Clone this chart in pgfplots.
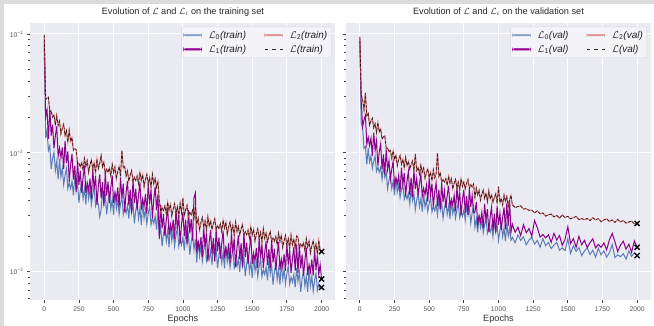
\documentclass[border=0pt]{standalone}
\usepackage{fontspec}
\setmainfont{Liberation Sans}
\usepackage{pgfplots}
\pgfplotsset{compat=1.18}
\usepackage{pgfplotstable}
\definecolor{bgc}{HTML}{EAEAF2}
\definecolor{cblue}{HTML}{4C72B0}
\definecolor{cpurple}{HTML}{8B008B}
\definecolor{legpurple}{HTML}{990099}
\definecolor{cred}{HTML}{DA5B5B}
\definecolor{tickc}{HTML}{444444}
\definecolor{labc}{HTML}{555555}
\definecolor{framec}{HTML}{DCDCDC}

\pgfplotstableread{
e l0 l1 l2
0 0.080 0.090 0.098
10 0.0133 0.0202 0.0282
20 0.0154 0.0230 0.0288
30 0.0105 0.0131 0.0294
40 0.0115 0.0233 0.0221
50 0.0073 0.0140 0.0225
60 0.0090 0.0173 0.0200
70 0.0101 0.0109 0.0208
80 0.0071 0.0139 0.0171
90 0.0085 0.0167 0.0206
100 0.0060 0.0093 0.0170
110 0.0089 0.0110 0.0185
120 0.0063 0.0091 0.0144
130 0.0074 0.0111 0.0162
140 0.0054 0.0073 0.0174
150 0.0065 0.0126 0.0140
160 0.0074 0.0082 0.0154
170 0.0050 0.0103 0.0123
180 0.0056 0.0057 0.0155
190 0.0050 0.0080 0.0125
200 0.0058 0.0098 0.0134
210 0.0044 0.0060 0.0105
220 0.0064 0.0078 0.0108
230 0.0048 0.0047 0.0107
240 0.0058 0.0087 0.0081
250 0.0038 0.0054 0.0082
260 0.00485 0.00706 0.0076
270 0.00564 0.00464 0.00832
280 0.00413 0.00621 0.00717
290 0.00505 0.00785 0.00898
300 0.00367 0.00459 0.00768
310 0.00564 0.0056 0.00861
320 0.00412 0.00481 0.00685
330 0.00489 0.00607 0.00792
340 0.00367 0.0041 0.00875
350 0.00448 0.0073 0.00724
360 0.00518 0.0049 0.00823
370 0.00362 0.0064 0.0068
380 0.00411 0.00364 0.00886
390 0.00369 0.00527 0.00737
400 0.0029 0.0066 0.00819
410 0.0033 0.00417 0.0095
420 0.00485 0.00568 0.00763
430 0.00371 0.00358 0.00833
440 0.00446 0.00688 0.00673
450 0.00304 0.00437 0.00728
460 0.0039 0.00574 0.00687
470 0.00455 0.00378 0.00748
480 0.00335 0.00509 0.00643
490 0.0041 0.00648 0.00802
500 0.003 0.00381 0.00684
510 0.00462 0.00467 0.00763
520 0.00339 0.00404 0.00606
530 0.00404 0.00512 0.00699
540 0.00304 0.00348 0.00769
550 0.00373 0.00623 0.00635
560 0.00433 0.0042 0.0105
570 0.00304 0.00552 0.0075
580 0.00346 0.00317 0.00769
590 0.00312 0.00461 0.00638
600 0.00364 0.00581 0.00706
610 0.0028 0.0036 0.00579
620 0.00411 0.0049 0.00652
630 0.00314 0.0031 0.00711
640 0.00376 0.00596 0.00575
650 0.00256 0.00379 0.00622
660 0.00327 0.00499 0.00587
670 0.00382 0.00329 0.0064
680 0.0028 0.00444 0.0055
690 0.00342 0.00567 0.00686
700 0.00249 0.00334 0.00586
710 0.00384 0.0041 0.00654
720 0.00281 0.00355 0.00519
730 0.00335 0.00451 0.00599
740 0.00252 0.00308 0.0066
750 0.00307 0.00552 0.00544
760 0.00355 0.00373 0.00617
770 0.00249 0.00491 0.00509
780 0.00283 0.00282 0.00661
790 0.00255 0.00411 0.00548
800 0.00296 0.0052 0.00607
810 0.00227 0.00329 0.00513
820 0.00332 0.00449 0.00577
830 0.002 0.0019 0.00396
840 0.00239 0.00365 0.0032
850 0.00164 0.00232 0.00347
860 0.00209 0.00306 0.00328
870 0.00245 0.00201 0.00358
880 0.0018 0.00272 0.00309
890 0.00221 0.00347 0.00385
900 0.00161 0.00204 0.0033
910 0.00249 0.00251 0.00368
920 0.00182 0.00218 0.00293
930 0.00218 0.00275 0.00339
940 0.00164 0.00188 0.00374
950 0.00202 0.00337 0.0031
960 0.00234 0.00228 0.00352
970 0.00164 0.003 0.0029
980 0.00187 0.00173 0.00378
990 0.00168 0.00251 0.00314
1000 0.00197 0.00317 0.0042
1010 0.00151 0.00201 0.00296
1020 0.00223 0.00274 0.00333
1030 0.0017 0.00173 0.00364
1040 0.00205 0.00331 0.00295
1050 0.00139 0.00211 0.00319
1060 0.00179 0.00277 0.00302
1070 0.00208 0.00183 0.00329
1080 0.00153 0.0042 0.00284
1090 0.00187 0.0046 0.00355
1100 0.0012 0.00146 0.00252
1110 0.00185 0.00179 0.00282
1120 0.00136 0.00155 0.00224
1130 0.00164 0.00196 0.0026
1140 0.00123 0.00134 0.00287
1150 0.00151 0.0024 0.00237
1160 0.00176 0.00162 0.00269
1170 0.00124 0.00213 0.00223
1180 0.00142 0.00122 0.0029
1190 0.00128 0.00178 0.00241
1200 0.0015 0.00224 0.00268
1210 0.00115 0.00142 0.00227
1220 0.0017 0.00193 0.00255
1230 0.00131 0.00122 0.00279
1240 0.00158 0.00234 0.00226
1250 0.00107 0.00149 0.00245
1260 0.00138 0.00195 0.00232
1270 0.00161 0.00129 0.00253
1280 0.00119 0.00173 0.00218
1290 0.00146 0.00221 0.00272
1300 0.00107 0.0013 0.00233
1310 0.00165 0.00159 0.00261
1320 0.00121 0.00138 0.00206
1330 0.00144 0.00175 0.00238
1340 0.00109 0.00119 0.00262
1350 0.00133 0.00214 0.00217
1360 0.00154 0.00145 0.00245
1370 0.00108 0.00191 0.00202
1380 0.00123 0.00109 0.00262
1390 0.00111 0.00159 0.00218
1400 0.00129 0.00202 0.00241
1410 0.001 0.00128 0.00204
1420 0.00146 0.00174 0.00229
1430 0.00112 0.0011 0.0025
1440 0.00135 0.00212 0.00201
1450 0.00092 0.00134 0.00218
1460 0.00116 0.00176 0.00205
1470 0.00136 0.00116 0.00224
1480 0.001 0.00157 0.00192
1490 0.00122 0.002 0.0024
1500 0.00089 0.00117 0.00204
1510 0.00137 0.00144 0.00228
1520 0.00101 0.00124 0.00181
1530 0.00121 0.00159 0.00208
1540 0.00091 0.00108 0.0023
1550 0.00111 0.00193 0.0019
1560 0.0013 0.0013 0.00215
1570 0.00091 0.00171 0.00178
1580 0.00104 0.00108 0.0023
1590 0.00095 0.00144 0.00191
1600 0.0011 0.00181 0.00212
1610 0.00085 0.00114 0.00179
1620 0.00124 0.00155 0.00202
1630 0.00096 0.00108 0.00219
1640 0.00115 0.00189 0.00178
1650 0.00078 0.0012 0.00192
1660 0.001 0.00157 0.00181
1670 0.00118 0.00103 0.00198
1680 0.00086 0.0014 0.00169
1690 0.00106 0.00178 0.00211
1700 0.00078 0.00104 0.0018
1710 0.0012 0.00128 0.00202
1720 0.00087 0.0011 0.0016
1730 0.00105 0.00141 0.00184
1740 0.00079 0.00102 0.00203
1750 0.00097 0.00171 0.00167
1760 0.00112 0.00115 0.0019
1770 0.00079 0.00153 0.00157
1780 0.0009 0.00098 0.00204
1790 0.00082 0.00128 0.00169
1800 0.00095 0.00161 0.00188
1810 0.00074 0.00102 0.00159
1820 0.00108 0.0017 0.0020
1830 0.00083 0.00098 0.00195
1840 0.001 0.00169 0.00158
1850 0.00068 0.00107 0.00171
1860 0.00088 0.0014 0.00162
1870 0.00102 0.00093 0.00176
1880 0.00076 0.00125 0.00151
1890 0.00092 0.0016 0.0019
1900 0.00068 0.00094 0.00162
1910 0.00105 0.00115 0.00181
1920 0.00076 0.001 0.00144
1930 0.00092 0.00127 0.00166
1940 0.00069 0.00093 0.00183
1950 0.00085 0.00155 0.00151
1960 0.00098 0.00104 0.00171
1970 0.0007 0.00138 0.00141
1980 0.00079 0.00095 0.00184
1990 0.00072 0.00115 0.00153
2000 0.00074 0.00087 0.00148
}\train

\pgfplotstableread{
e l0 l1 l2
0 0.080 0.090 0.095
10 0.0178 0.0265 0.0307
20 0.0162 0.0166 0.0279
30 0.0109 0.0190 0.0229
40 0.0113 0.0206 0.0320
50 0.0080 0.0118 0.0205
60 0.0110 0.0135 0.0215
70 0.0084 0.0115 0.0171
80 0.0094 0.0133 0.0186
90 0.0074 0.0094 0.0196
100 0.0085 0.0148 0.0162
110 0.0094 0.0105 0.0176
120 0.0070 0.0126 0.0148
130 0.0076 0.0078 0.0180
140 0.0069 0.0102 0.0150
150 0.0076 0.0119 0.0159
160 0.0060 0.0073 0.0131
170 0.0079 0.0097 0.0136
180 0.0062 0.0066 0.0139
190 0.0069 0.0107 0.0109
200 0.0050 0.0072 0.0110
210 0.0059 0.0086 0.0102
220 0.0066 0.0060 0.0105
230 0.0050 0.0073 0.0090
240 0.0058 0.0085 0.0104
250 0.0044 0.0053 0.0088
260 0.0061 0.0062 0.0096
270 0.0047 0.0055 0.0078
280 0.0054 0.0065 0.0088
290 0.0042 0.0047 0.0095
300 0.0049 0.0075 0.0080
310 0.00546 0.00544 0.00882
320 0.00408 0.00675 0.00747
330 0.00449 0.00432 0.00921
340 0.0041 0.00581 0.00783
350 0.00459 0.0070 0.00846
360 0.00369 0.00445 0.00731
370 0.00497 0.00618 0.0080
380 0.00397 0.00427 0.00855
390 0.00456 0.00718 0.00709
400 0.00332 0.00497 0.0098
410 0.00402 0.00614 0.0071
420 0.00455 0.00438 0.00756
430 0.00353 0.00551 0.00662
440 0.00415 0.00666 0.0079
450 0.00321 0.00431 0.00687
460 0.00451 0.00504 0.00748
470 0.00351 0.00446 0.00611
480 0.00403 0.00535 0.00683
490 0.0032 0.00389 0.00735
500 0.00374 0.00619 0.0062
510 0.00422 0.00447 0.00687
520 0.00319 0.00552 0.00583
530 0.00354 0.00351 0.00721
540 0.00326 0.0047 0.00615
550 0.0037 0.00563 0.00667
560 0.0030 0.00355 0.0100
570 0.00408 0.00491 0.00633
580 0.0033 0.00337 0.00679
590 0.00383 0.00562 0.00565
600 0.00282 0.00386 0.0060
610 0.00343 0.00481 0.00569
620 0.0039 0.00345 0.00607
630 0.00304 0.00437 0.00533
640 0.00359 0.00531 0.00637
650 0.00279 0.00346 0.00556
660 0.00394 0.00408 0.00606
670 0.00308 0.00363 0.00497
680 0.00355 0.00439 0.00556
690 0.00283 0.00322 0.0060
700 0.00333 0.00516 0.00508
710 0.00376 0.00376 0.00567
720 0.00285 0.00468 0.00486
730 0.00317 0.0030 0.00606
740 0.00293 0.00405 0.00522
750 0.00333 0.0049 0.00571
760 0.00271 0.00312 0.0050
770 0.00369 0.00435 0.00554
780 0.0030 0.00302 0.00599
790 0.00348 0.00508 0.00504
800 0.00257 0.00352 0.0054
810 0.00314 0.00439 0.00517
820 0.00357 0.00315 0.00547
830 0.00237 0.00317 0.00421
840 0.00278 0.00386 0.00505
850 0.00215 0.00251 0.00443
860 0.00301 0.00296 0.00484
870 0.00235 0.00263 0.0040
880 0.00269 0.00318 0.0045
890 0.00213 0.00233 0.00487
900 0.0025 0.00374 0.00414
910 0.00281 0.00272 0.00458
920 0.00211 0.00337 0.00389
930 0.00234 0.00216 0.00481
940 0.00215 0.0029 0.0041
950 0.00243 0.0035 0.00444
960 0.00197 0.00222 0.00385
970 0.00267 0.00309 0.00422
980 0.00215 0.00214 0.00453
990 0.00249 0.00359 0.00377
1000 0.00183 0.00248 0.0052
1010 0.00222 0.0031 0.00383
1020 0.00253 0.00224 0.00413
1030 0.00197 0.00285 0.00366
1040 0.00233 0.00348 0.00442
1050 0.00181 0.00228 0.0039
1060 0.00256 0.0038 0.0043
1070 0.0020 0.00242 0.00356
1080 0.00231 0.0040 0.00403
1090 0.00184 0.00216 0.0044
1100 0.00195 0.00252 0.00366
1120 0.00176 0.00215 0.00347
1140 0.00204 0.00237 0.00354
1160 0.00184 0.00202 0.00359
1180 0.00197 0.00249 0.00337
1200 0.00169 0.00213 0.0034
1220 0.00185 0.00231 0.00329
1240 0.00195 0.00199 0.00331
1260 0.00171 0.0027 0.00313
1280 0.00184 0.00235 0.00326
1300 0.00161 0.00196 0.00308
1320 0.0019 0.00206 0.00313
1340 0.00166 0.00193 0.00294
1360 0.00177 0.00205 0.00302
1380 0.00157 0.00177 0.00306
1400 0.00168 0.00211 0.0029
1420 0.00177 0.00185 0.00298
1440 0.00152 0.00202 0.00283
1460 0.00159 0.00167 0.00301
1480 0.00151 0.00188 0.00286
1500 0.0019 0.0024 0.00293
1520 0.00143 0.00173 0.00279
1540 0.00166 0.0019 0.00286
1560 0.00149 0.00161 0.00292
1580 0.0016 0.00199 0.00275
1600 0.00137 0.00169 0.0028
1620 0.0015 0.00184 0.00275
1640 0.00159 0.0016 0.00281
1660 0.0014 0.00176 0.0027
1680 0.00152 0.0019 0.00285
1700 0.00133 0.00159 0.00273
1720 0.00158 0.0017 0.0028
1740 0.00139 0.00161 0.00264
1760 0.0015 0.00175 0.00273
1780 0.00133 0.00153 0.00279
1800 0.00145 0.00186 0.00265
1820 0.0017 0.0021 0.00273
1840 0.00132 0.00179 0.0026
1860 0.00139 0.00148 0.00276
1880 0.00134 0.00168 0.00263
1900 0.00142 0.00181 0.0027
1920 0.00128 0.00155 0.00257
1940 0.0015 0.00171 0.00263
1960 0.00135 0.00146 0.00267
1980 0.00145 0.00182 0.00253
2000 0.00137 0.00161 0.00255
}\val

\pgfplotsset{
  every axis/.append style={
    scale only axis, width=305bp, height=277bp,
    xmin=-100, xmax=2100, ymin=5.8e-4, ymax=0.1235,
    axis background/.style={fill=bgc},
    axis line style={draw=none},
    grid=major, major grid style={white, line width=1bp},
    xtick={0,250,500,750,1000,1250,1500,1750,2000},
    xticklabels={0,250,500,750,1000,1250,1500,1750,2000},
    ytick={1e-3,1e-2,1e-1},
    minor ytick={6e-4,7e-4,8e-4,9e-4,2e-3,3e-3,4e-3,5e-3,6e-3,7e-3,8e-3,9e-3,2e-2,3e-2,4e-2,5e-2,6e-2,7e-2,8e-2,9e-2},
    tick align=outside, xtick pos=bottom, ytick pos=left,
    major tick length=3.5bp, minor tick length=2bp,
    every tick/.style={tickc, line width=0.8bp},
    tick label style={font=\fontsize{6.8}{7}\selectfont, text=labc},
    xlabel={Epochs},
    xlabel style={font=\fontsize{9.2}{10}\selectfont, text=black!80, at={(0.5,0)}, anchor=base, yshift=-21.5bp},
    title style={font=\fontsize{9.2}{10}\selectfont, text=black!85, at={(0.5,1)}, anchor=base, yshift=2.5bp},
    legend columns=2,
    legend style={at={(0.987,0.987)}, anchor=north east, fill=bgc!55!white, draw=black!15,
      rounded corners=2bp, font=\fontsize{10}{11}\selectfont, text=black!85, inner sep=2bp,
      row sep=1.5bp,
      /tikz/every odd column/.append style={column sep=5bp},
      /tikz/every even column/.append style={column sep=16bp}},
    legend cell align=left,
    limgblue/.style={legend image code/.code={\fill[cblue!60!bgc] (0bp,-0.8bp) rectangle (18bp,0.8bp);}},
    limgred/.style={legend image code/.code={\fill[cred!60!bgc] (0bp,-0.8bp) rectangle (18bp,0.8bp);}},
    limgpurple/.style={legend image code/.code={\fill[legpurple] (0bp,-0.75bp) rectangle (18bp,0.75bp);}},
    limgdash/.style={legend image code/.code={\draw[black!85, line width=0.9bp, dash pattern=on 3.5bp off 4bp] (0bp,0bp) -- (18bp,0bp);}},
  }
}

\begin{document}
\begin{tikzpicture}
\useasboundingbox (0,0) rectangle (654bp,326bp);
\fill[framec] (0,0) rectangle (4bp,326bp);
\fill[framec] (0,322bp) rectangle (654bp,326bp);

\begin{semilogyaxis}[at={(30.4bp,26bp)}, anchor=south west,
  yticklabels={10\textsuperscript{−3},10\textsuperscript{−2},10\textsuperscript{−1}},
  title={Evolution of $\mathcal{L}$ and $\mathcal{L}_i$ on the training set}]
\addplot[cblue, opacity=0.9, line width=1bp, forget plot] table[x=e,y=l0]{\train};
\addplot[cpurple, line width=1bp, forget plot] table[x=e,y=l1]{\train};
\addplot[cred, opacity=0.85, line width=1bp, forget plot] table[x=e,y=l2]{\train};
\addplot[black, opacity=0.75, line width=0.7bp, dash pattern=on 3bp off 1.5bp, forget plot] table[x=e,y=l2]{\train};
\addplot[only marks, mark=x, mark size=3.6bp, black, line width=1.3bp, forget plot] coordinates {(2000,0.00148) (2000,0.00087) (2000,0.00074)};
\addlegendimage{limgblue}
\addlegendentry{$\mathcal{L}$\textsubscript{0}\textit{(train)}}
\addlegendimage{limgred}
\addlegendentry{$\mathcal{L}$\textsubscript{2}\textit{(train)}}
\addlegendimage{limgpurple}
\addlegendentry{$\mathcal{L}$\textsubscript{1}\textit{(train)}}
\addlegendimage{limgdash}
\addlegendentry{$\mathcal{L}$\textit{(train)}}
\end{semilogyaxis}

\begin{semilogyaxis}[at={(346bp,26bp)}, anchor=south west,
  yticklabels={},
  title={Evolution of $\mathcal{L}$ and $\mathcal{L}_i$ on the validation set}]
\addplot[cblue, opacity=0.9, line width=1bp, forget plot] table[x=e,y=l0]{\val};
\addplot[cpurple, line width=1bp, forget plot] table[x=e,y=l1]{\val};
\addplot[cred, opacity=0.85, line width=1bp, forget plot] table[x=e,y=l2]{\val};
\addplot[black, opacity=0.75, line width=0.7bp, dash pattern=on 3bp off 1.5bp, forget plot] table[x=e,y=l2]{\val};
\addplot[only marks, mark=x, mark size=3.6bp, black, line width=1.3bp, forget plot] coordinates {(2000,0.00255) (2000,0.00161) (2000,0.00137)};
\addlegendimage{limgblue}
\addlegendentry{$\mathcal{L}$\textsubscript{0}\textit{(val)}}
\addlegendimage{limgred}
\addlegendentry{$\mathcal{L}$\textsubscript{2}\textit{(val)}}
\addlegendimage{limgpurple}
\addlegendentry{$\mathcal{L}$\textsubscript{1}\textit{(val)}}
\addlegendimage{limgdash}
\addlegendentry{$\mathcal{L}$\textit{(val)}}
\end{semilogyaxis}
\end{tikzpicture}
\end{document}
